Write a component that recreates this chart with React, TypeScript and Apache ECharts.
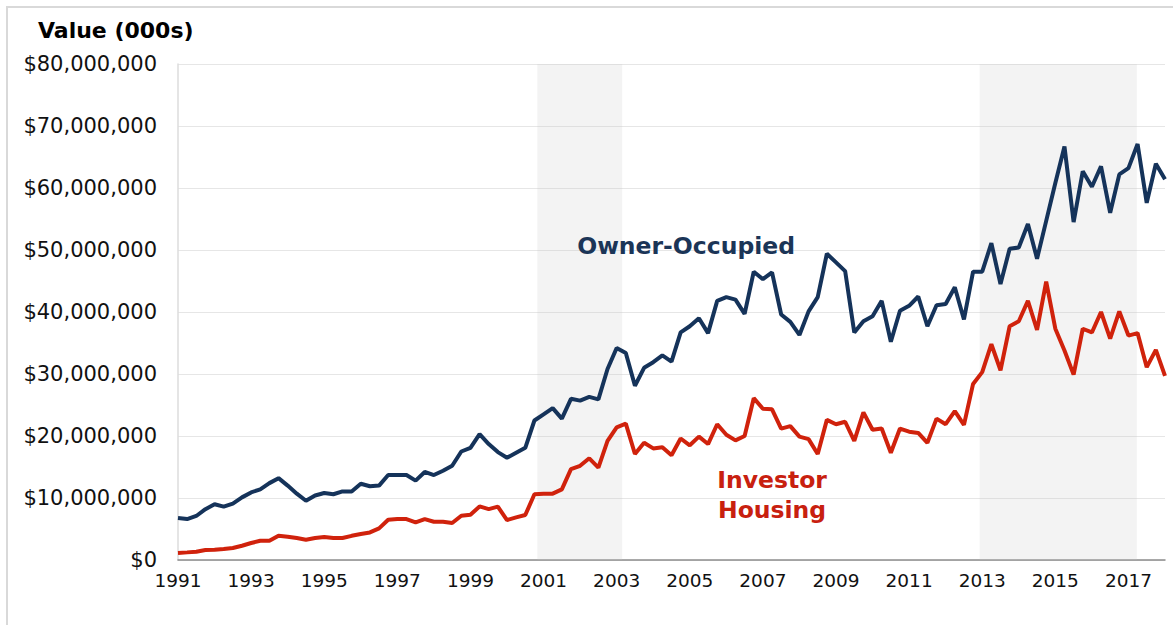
import React, { useEffect, useRef } from "react";
import * as echarts from "echarts";

// Quarterly values, 1991 Q1 .. 2018 Q1, in millions of (000s) dollars
const ownerOccupied = [
  6.76, 6.6, 7.1, 8.2, 9.0, 8.6, 9.1, 10.1, 10.9, 11.4, 12.4,
  13.2, 12.0, 10.7, 9.55, 10.4, 10.8, 10.6, 11.06, 11.06, 12.3,
  11.9, 12.0, 13.7, 13.7, 13.7, 12.8, 14.2, 13.7, 14.4, 15.2,
  17.5, 18.1, 20.3, 18.7, 17.4, 16.5, 17.3, 18.1, 22.5, 23.5,
  24.5, 22.8, 26.0, 25.7, 26.3, 25.9, 30.8, 34.2, 33.4, 28.1,
  31.0, 31.9, 33.0, 32.0, 36.7, 37.7, 39.0, 36.6, 41.8, 42.4,
  42.0, 39.7, 46.5, 45.3, 46.4, 39.6, 38.4, 36.3, 40.1, 42.4,
  49.4, 48.0, 46.6, 36.7, 38.5, 39.3, 41.8, 35.2, 40.2, 41.0,
  42.5, 37.7, 41.1, 41.3, 44.0, 38.8, 46.5, 46.5, 51.1, 44.5,
  50.2, 50.4, 54.2, 48.6, 54.7, 60.8, 66.7, 54.5, 62.7, 60.2,
  63.5, 56.0, 62.2, 63.2, 67.1, 57.6, 63.9, 61.4,
];

const investorHousing = [
  1.13, 1.23, 1.34, 1.6, 1.66, 1.77, 1.93, 2.3, 2.74, 3.1, 3.1,
  3.9, 3.76, 3.54, 3.27, 3.54, 3.7, 3.54, 3.54, 3.9, 4.2,
  4.45, 5.1, 6.5, 6.6, 6.6, 6.07, 6.6, 6.17, 6.17, 5.96,
  7.14, 7.3, 8.64, 8.2, 8.6, 6.44, 6.87, 7.25, 10.6, 10.7,
  10.7, 11.4, 14.65, 15.2, 16.4, 14.9, 19.2, 21.4, 22.0, 17.1,
  18.9, 18.0, 18.2, 16.9, 19.6, 18.5, 19.9, 18.7, 21.9, 20.2,
  19.3, 20.0, 26.1, 24.4, 24.3, 21.2, 21.6, 19.9, 19.5, 17.1,
  22.6, 21.9, 22.3, 19.2, 23.8, 21.0, 21.2, 17.3, 21.2, 20.7,
  20.5, 18.9, 22.8, 21.9, 24.0, 21.8, 28.4, 30.3, 34.8, 30.6,
  37.7, 38.5, 41.8, 37.1, 44.9, 37.3, 33.8, 29.9, 37.3, 36.7,
  40.0, 35.7, 40.1, 36.2, 36.6, 31.1, 33.9, 29.7,
];

const startYear = 1991;
const yTicks = [0, 10, 20, 30, 40, 50, 60, 70, 80]; // millions
// shaded periods, in decimal years
const shadedPeriods = [
  [2000.83, 2003.15],
  [2012.93, 2017.23],
];

const FONT = "DejaVu Sans";
const BLUE = "#15335a";
const RED = "#d0220c";

const toIdx = (year: number) => (year - startYear) * 4;

export default function App() {
  const ref = useRef<HTMLDivElement>(null);
  useEffect(() => {
    if (!ref.current) return;
    const chart = echarts.init(ref.current, null, { renderer: "svg" });
    const ownerData = ownerOccupied.map((v, i) => [i, v]);
    const invData = investorHousing.map((v, i) => [i, v]);
    const lastIdx = ownerOccupied.length - 1;
    chart.setOption({
      animation: false,
      backgroundColor: "#ffffff",
      title: {
        text: "Value (000s)",
        left: 38,
        top: 19,
        padding: 0,
        textStyle: { fontFamily: FONT, fontSize: 22, fontWeight: "bold", color: "#000" },
      },
      graphic: [
        {
          type: "rect",
          shape: { x: 7, y: 7, width: 1200, height: 700 },
          style: { fill: "none", stroke: "#d9d9d9", lineWidth: 2 },
          silent: true,
        },
      ],
      grid: { left: 178, right: 8, top: 64, bottom: 65 },
      xAxis: {
        type: "value",
        min: 0,
        max: lastIdx,
        interval: 8,
        axisLine: { show: true, lineStyle: { color: "#8c8c8c", width: 1.5 } },
        axisTick: { show: false },
        splitLine: { show: false },
        axisLabel: {
          showMaxLabel: false,
          margin: 11,
          fontFamily: FONT,
          fontSize: 18.5,
          color: "#111",
          formatter: (v: number) => String(startYear + v / 4),
        },
      },
      yAxis: {
        type: "value",
        min: yTicks[0],
        max: yTicks[yTicks.length - 1],
        interval: yTicks[1] - yTicks[0],
        axisLine: { show: true, lineStyle: { color: "#dcdcdc", width: 1.5 } },
        axisTick: { show: false },
        splitLine: { show: true, lineStyle: { color: "#e6e6e6", width: 1 } },
        axisLabel: {
          margin: 21,
          fontFamily: FONT,
          fontSize: 21,
          color: "#111",
          formatter: (v: number) => "$" + Math.round(v * 1e6).toLocaleString("en-US"),
        },
      },
      series: [
        {
          name: "Owner-Occupied",
          type: "line",
          data: ownerData,
          symbol: "none",
          z: 2,
          lineStyle: { color: BLUE, width: 4 },
          markPoint: {
            symbol: "circle",
            symbolSize: 0,
            data: [{ coord: [55.6, 50.6], value: 0 }],
            label: {
              show: true,
              position: "inside",
              formatter: "Owner-Occupied",
              fontFamily: FONT,
              fontSize: 23.5,
              fontWeight: "bold",
              color: "#1b3557",
            },
          },
        },
        {
          name: "Investor Housing",
          type: "line",
          data: invData,
          symbol: "none",
          z: 2,
          lineStyle: { color: RED, width: 4 },
          markPoint: {
            symbol: "circle",
            symbolSize: 0,
            data: [{ coord: [65, 10.5], value: 0 }],
            label: {
              show: true,
              position: "inside",
              formatter: "Investor\nHousing",
              lineHeight: 30,
              fontFamily: FONT,
              fontSize: 23.5,
              fontWeight: "bold",
              color: "#c8200f",
              align: "center",
            },
          },
        },
        {
          name: "shade",
          type: "line",
          data: [],
          z: 10,
          silent: true,
          markArea: {
            silent: true,
            itemStyle: { color: "rgba(199,199,199,0.21)" },
            data: shadedPeriods.map(([a, b]) => [{ xAxis: toIdx(a) }, { xAxis: toIdx(b) }]),
          },
        },
      ],
    });
    return () => chart.dispose();
  }, []);
  return (
    <div
      ref={ref}
      style={{ position: "absolute", left: 0, top: 0, width: 1173, height: 625 }}
    />
  );
}
